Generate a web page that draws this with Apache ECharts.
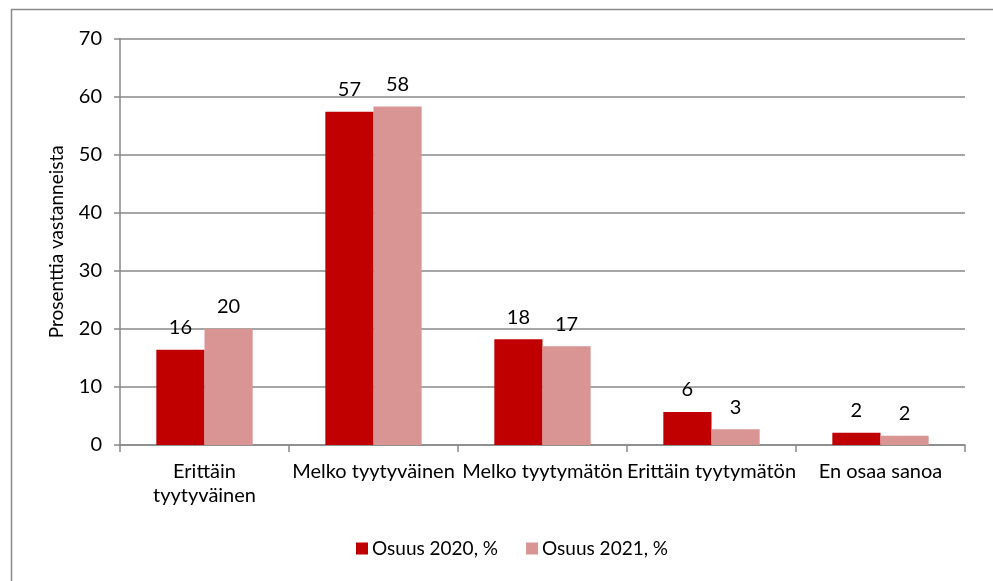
<!DOCTYPE html>
<html>
<head>
<meta charset="utf-8">
<script src="https://cdn.jsdelivr.net/npm/echarts@6/dist/echarts.min.js"></script>
<style>
html,body{margin:0;padding:0;background:#fff;}
#chart{width:993px;height:581px;}
</style>
</head>
<body>
<div id="chart"></div>
<script>
const categories = ['Erittäin\ntyytyväinen', 'Melko tyytyväinen', 'Melko tyytymätön', 'Erittäin tyytymätön', 'En osaa sanoa'];
const series2020 = [16.4, 57.4, 18.2, 5.7, 2.1];
const series2021 = [20.0, 58.3, 17.0, 2.7, 1.6];
const seriesNames = ['Osuus 2020, %', 'Osuus 2021, %'];
const yTicks = {min: 0, max: 70, interval: 10};
const yAxisName = 'Prosenttia vastanneista';

const FONT = 'Lato';
const FS = 20;
const chart = echarts.init(document.getElementById('chart'));
const labelCfg = {
  show: true, position: 'top', distance: 12,
  color: '#000', fontFamily: FONT, fontSize: FS,
  formatter: p => Math.round(p.value)
};
chart.setOption({
  animation: false,
  textStyle: {fontFamily: FONT},
  graphic: [{
    type: 'rect', shape: {x: 11.5, y: 9.5, width: 1000, height: 600},
    style: {fill: 'none', stroke: '#8a8a8a', lineWidth: 1.5}, silent: true
  }],
  grid: {left: 120, right: 28, top: 38.5, bottom: 136, containLabel: false},
  legend: {
    bottom: 18, left: 351,
    itemWidth: 12, itemHeight: 12, itemGap: 28,
    icon: 'rect',
    textStyle: {fontFamily: FONT, fontSize: 19, color: '#000', padding: [0, 0, 0, -1]},
    data: seriesNames
  },
  xAxis: {
    type: 'category', data: categories,
    axisLine: {lineStyle: {color: '#898989', width: 1.5}},
    axisTick: {show: true, length: 7, alignWithLabel: false, lineStyle: {color: '#898989', width: 1.5}},
    axisLabel: {color: '#000', fontFamily: FONT, fontSize: FS, margin: 15, lineHeight: 24, interval: 0}
  },
  yAxis: {
    type: 'value', min: yTicks.min, max: yTicks.max, interval: yTicks.interval,
    name: yAxisName, nameLocation: 'middle', nameGap: 54, nameRotate: 90,
    nameTextStyle: {color: '#000', fontFamily: FONT, fontSize: 19},
    axisLine: {show: true, lineStyle: {color: '#898989', width: 1.5}},
    axisTick: {show: true, length: 6, lineStyle: {color: '#898989', width: 1.5}},
    axisLabel: {color: '#000', fontFamily: FONT, fontSize: FS, margin: 18},
    splitLine: {lineStyle: {color: '#898989', width: 1.5}}
  },
  series: [
    {name: seriesNames[0], type: 'bar', data: series2020, barGap: '0%', barCategoryGap: '43%',
     itemStyle: {color: '#C00000'}, label: labelCfg},
    {name: seriesNames[1], type: 'bar', data: series2021, barGap: '0%', barCategoryGap: '43%',
     itemStyle: {color: '#D99594'}, label: labelCfg}
  ]
});
</script>
</body>
</html>
